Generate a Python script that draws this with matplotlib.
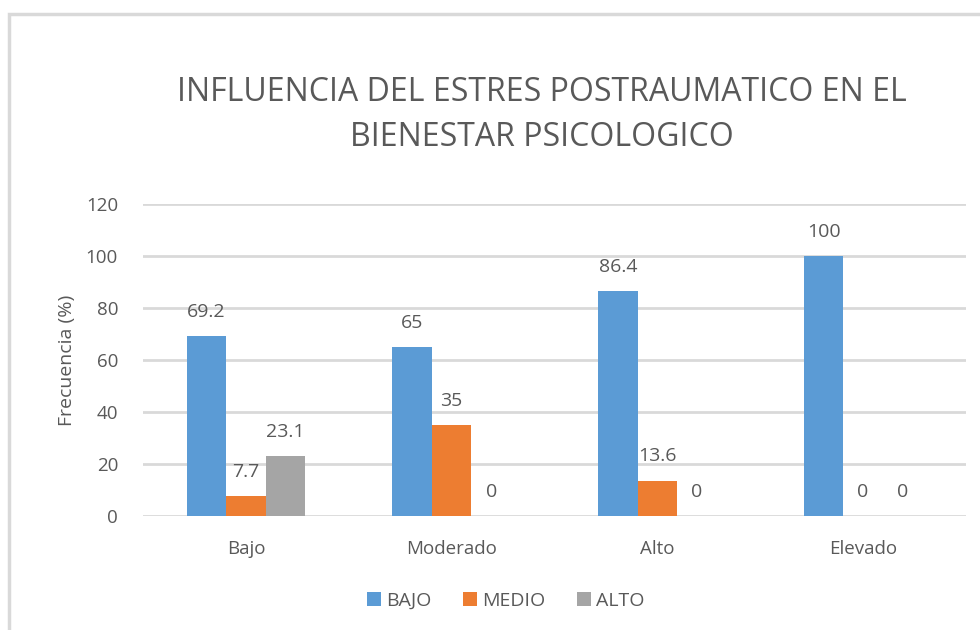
import numpy as np
import matplotlib.pyplot as plt
from matplotlib.patches import Rectangle

plt.rcParams['font.family'] = ['Open Sans', 'DejaVu Sans']

categorias = ['Bajo', 'Moderado', 'Alto', 'Elevado']
series = ['BAJO', 'MEDIO', 'ALTO']
bajo = [69.2, 65, 86.4, 100]
medio = [7.7, 35, 13.6, 0]
alto = [23.1, 0, 0, 0]
etiquetas_y = [0, 20, 40, 60, 80, 100, 120]

colores = ['#5B9BD5', '#ED7D31', '#A5A5A5']
texto = '#595959'

fig = plt.figure(figsize=(9.8, 6.3), dpi=100)
ax = fig.add_axes([143 / 980, 1 - 516 / 630, 823 / 980, 312 / 630])

# marco del grafico (solo se ven borde izquierdo y superior)
fig.patches.append(Rectangle((9 / 980, -0.1), 1.2, 1 - 14 / 630 + 0.1,
                             transform=fig.transFigure, fill=False,
                             edgecolor='#D9D9D9', linewidth=2.5))

x = np.arange(len(categorias))
ancho = 0.192
for i, (nombre, valores) in enumerate(zip(series, [bajo, medio, alto])):
    pos = x + (i - 1) * ancho
    ax.bar(pos, valores, width=ancho, color=colores[i], label=nombre, zorder=3)
    for px, v in zip(pos, valores):
        ax.annotate(f'{v:g}', (px, v), xytext=(0, 11), textcoords='offset points',
                    ha='center', va='bottom', fontsize=14, color=texto)

ax.set_xlim(-0.5, 3.5)
ax.set_ylim(0, 120)
ax.set_yticks(etiquetas_y)
ax.set_xticks(x)
ax.set_xticklabels(categorias)
ax.tick_params(axis='both', length=0, labelsize=13.5, colors=texto)
ax.tick_params(axis='y', pad=18)
ax.tick_params(axis='x', pad=17)
ax.grid(axis='y', color='#D9D9D9', linewidth=2, zorder=0)
for s in ax.spines.values():
    s.set_visible(False)

ax.set_ylabel('Frecuencia (%)', fontsize=14, color=texto, labelpad=7)

fig.text(542 / 980, 1 - 115 / 630,
         'INFLUENCIA DEL ESTRES POSTRAUMATICO EN EL\nBIENESTAR PSICOLOGICO',
         ha='center', va='center', fontsize=23, color=texto, linespacing=1.45)

ax.legend(loc='center', bbox_to_anchor=(506 / 980, 1 - 601 / 630),
          bbox_transform=fig.transFigure, ncol=3, frameon=False,
          fontsize=14, labelcolor=texto, handlelength=0.7, handleheight=0.7,
          handletextpad=0.3, columnspacing=1.6)

fig.savefig('out.png', dpi=100)
